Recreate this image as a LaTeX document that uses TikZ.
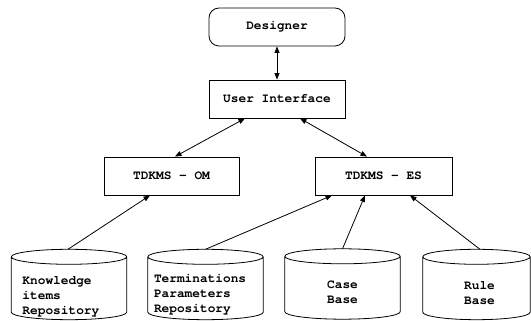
\documentclass[tikz,border=0pt]{standalone}
\usepackage{fontspec}
\setmonofont{TeX Gyre Cursor}
\usetikzlibrary{arrows.meta,calc}
\tikzset{
  lbl/.style={font=\ttfamily\bfseries\fontsize{12.8}{15}\selectfont},
  box/.style={draw, line width=0.8pt, lbl, minimum width=136pt, minimum height=38pt, inner sep=0pt},
  rbox/.style={box, rounded corners=10pt},
  cylbody/.style={minimum width=115pt, minimum height=70pt, inner sep=0pt},
  cyltext/.style={lbl, align=left, inner sep=0pt},
  conn/.style={line width=0.8pt, -{Triangle[length=6.5pt,width=5pt]}},
  dconn/.style={line width=0.8pt, {Triangle[length=6.5pt,width=5pt]}-{Triangle[length=6.5pt,width=5pt]}},
  cylline/.style={line width=0.8pt}
}
\newcommand{\cylout}[1]{%
  \draw[cylline] let \p1=(#1.north west), \p2=(#1.north east), \n1={(\x2-\x1)/2} in
    ([yshift=-7.5pt]#1.north west) -- ([yshift=7.5pt]#1.south west)
    arc[start angle=180, end angle=360, x radius=\n1, y radius=7.5pt]
    -- ([yshift=-7.5pt]#1.north east)
    arc[start angle=0, end angle=360, x radius=\n1, y radius=7.5pt];}
\begin{document}
\begin{tikzpicture}[x=1pt,y=1pt]
\useasboundingbox (0,0) rectangle (531,321);
% boxes
\node[rbox] (des) at (277,294) {Designer};
\node[box] (ui) at (277,222) {User Interface};
\node[box, minimum width=135pt] (om) at (171.5,145) {TDKMS - OM};
\node[box, minimum width=137pt] (es) at (383.5,145) {TDKMS - ES};
% cylinders
\node[cylbody] (kr) at (69,36.5) {};
\node[cylbody] (tp) at (205.5,36.5) {};
\node[cylbody] (cb) at (342.5,37) {};
\node[cylbody, minimum width=107pt] (rb) at (476.5,36.5) {};
\cylout{kr}\cylout{tp}\cylout{cb}\cylout{rb}
\node[cyltext, anchor=west] (krt) at ([xshift=11pt,yshift=-12pt]kr.west) {Knowledge\\items\\Repository};
\node[cyltext, anchor=west] (tpt) at ([xshift=6pt,yshift=-10pt]tp.west) {Terminations\\Parameters\\Repository};
\node[cyltext, align=center] (cbt) at ([yshift=-8pt]cb.center) {Case\\Base};
\node[cyltext, align=center] (rbt) at ([xshift=3pt,yshift=-9pt]rb.center) {Rule\\Base};
% connectors
\draw[dconn] (des.south) -- (ui.north);
\draw[dconn] ([xshift=-32pt]ui.south) -- ([xshift=3.5pt]om.north);
\draw[dconn] ([xshift=23pt]ui.south) -- ([xshift=-16.5pt]es.north);
\draw[conn] ([xshift=-1pt]kr.north) -- ([xshift=-21.5pt]om.south);
\draw[conn] (tp.north) -- ([xshift=-51.5pt]es.south);
\draw[conn] (cb.north) -- ([xshift=-18.5pt]es.south);
\draw[conn] ([xshift=3.5pt]rb.north) -- ([xshift=26.5pt]es.south);
\end{tikzpicture}
\end{document}
